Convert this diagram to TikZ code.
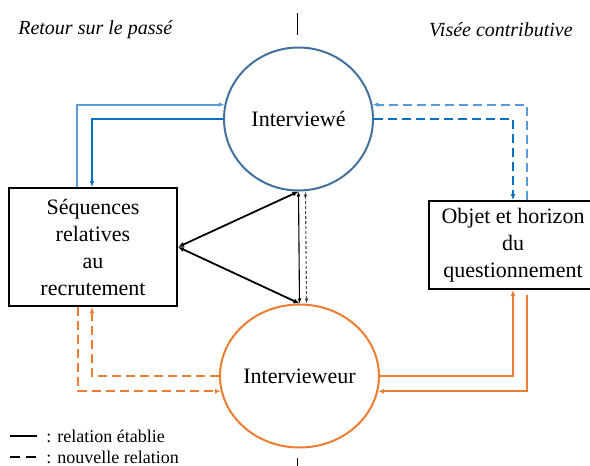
\documentclass[tikz,border=0pt]{standalone}
\usepackage{fontspec}
\setmainfont{Liberation Serif}
\usetikzlibrary{arrows.meta,shapes.geometric}
\definecolor{circblue}{HTML}{41719C}
\definecolor{lightblue}{HTML}{5B9BD5}
\definecolor{darkblue}{HTML}{0070C0}
\definecolor{orangeline}{HTML}{ED7D31}

\begin{document}
\begin{tikzpicture}[x=1pt,y=-1pt,>={Latex[length=6pt,width=5pt]},line width=2pt,
  main node/.style={ellipse,draw,line width=2pt,minimum width=149pt,minimum height=143pt,inner sep=0pt,font=\fontsize{22}{27}\selectfont},
  box node/.style={rectangle,draw=black,line width=2pt,align=center,inner sep=0pt,font=\fontsize{22}{27}\selectfont},
  new/.style={dash pattern=on 9pt off 5pt},
  side label/.style={font=\fontsize{20}{22}\selectfont\itshape},
  key label/.style={anchor=west,font=\fontsize{18}{20}\selectfont}]
  \useasboundingbox (0,0) rectangle (590,466);

  \node[main node,draw=circblue] (interviewe) at (298.5,119) {Interviewé};
  \node[main node,draw=orangeline] (intervieweur) at (299.5,376) {Intervieweur};
  \node[box node,minimum width=168pt,minimum height=118pt] (sequences) at (93,247) {Séquences\\relatives\\au\\recrutement};
  \node[box node,minimum width=168pt,minimum height=88pt] (objet) at (513,245) {Objet et horizon\\du\\questionnement};

  \node[side label,anchor=west] (passe) at (14,30) {Retour sur le passé};
  \node[side label,anchor=east] (visee) at (577,30) {Visée contributive};

  % separation marks
  \draw[line width=1pt] (297,13) -- (297,35);
  \draw[line width=1pt] (297,458) -- (297,466);

  % past side
  \draw[->,lightblue] ([xshift=-16pt]sequences.north) |- (interviewe.169);
  \draw[->,darkblue] (interviewe.west) -| ([xshift=-1pt]sequences.north);
  \draw[->,orangeline,new] ([xshift=-15pt]sequences.south) |- (intervieweur.191);
  \draw[->,orangeline,new] (intervieweur.west) -| ([xshift=-1pt]sequences.south);

  % contributive side
  \draw[->,lightblue,new] ([xshift=14pt]objet.north) |- (interviewe.11);
  \draw[->,darkblue,new] (interviewe.east) -| (objet.north);
  \draw[->,orangeline] (intervieweur.east) -| (objet.south);
  \draw[->,orangeline] ([xshift=14pt,yshift=-5pt]objet.south) |- (intervieweur.-11);

  % interview relation
  \draw[<->,line width=1.8pt] (sequences.east) -- (interviewe.south);
  \draw[<->,line width=1.8pt] (sequences.east) -- (intervieweur.north);
  \draw[<->,line width=1.1pt,>={Latex[length=5pt,width=4pt]}] (interviewe.south) -- (intervieweur.north);
  \draw[<->,line width=1.1pt,black!70,dash pattern=on 3pt off 2pt,>={Latex[length=5pt,width=4pt]}] ([xshift=7pt]interviewe.south) -- ([xshift=7pt]intervieweur.north);

  % key
  \draw[line width=1.6pt] (10,436) -- (37,436);
  \node[key label] (etablie) at (42,436) {: relation établie};
  \draw[line width=1.6pt,dash pattern=on 10pt off 6pt] (10,457) -- (37,457);
  \node[key label] (nouvelle) at (42,457) {: nouvelle relation};
\end{tikzpicture}
\end{document}
